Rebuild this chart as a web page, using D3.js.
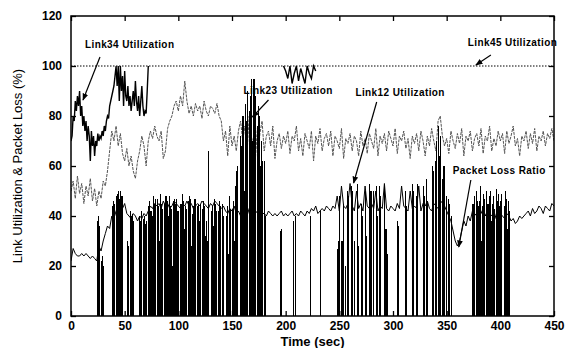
<!DOCTYPE html>
<html><head><meta charset="utf-8">
<script src="https://cdn.jsdelivr.net/npm/d3@7/dist/d3.min.js"></script>
<style>
html,body{margin:0;padding:0;background:#fff;}
svg{display:block;font-family:"Liberation Sans",Arial,sans-serif;}
</style></head>
<body>
<svg id="chart" width="567" height="348"></svg>
<script>
// ---------------- DATA ----------------
const xTicks = [0,50,100,150,200,250,300,350,400,450];
const yTicks = [0,20,40,60,80,100,120];

// Packet loss ratio, 1-second samples, t = 0..450
const packetLoss = [
 0,0,0,0,0,0,0,0,0,0,
 0,0,0,0,0,0,0,0,0,0,
 0,0,0,0,38,40,36,0,22,24,
 20,0,0,0,0,0,0,0,44,46,
 45,0,48,49,50,47,50,48,0,0,
 0,0,30,28,0,42,40,41,38,0,
 0,0,0,40,38,42,0,39,40,37,
 38,0,44,46,42,40,48,45,47,0,
 47,44,30,49,45,43,0,45,48,46,
 40,48,44,43,20,46,47,45,47,42,
 42,0,45,49,46,35,44,43,0,46,
 48,47,28,41,44,47,0,44,45,38,
 45,0,43,46,44,32,38,30,66,0,
 42,44,36,47,45,42,0,42,46,44,
 0,45,40,0,40,44,25,48,43,0,
 43,46,30,52,58,60,0,72,68,80,
 80,50,85,78,90,0,82,88,95,70,
 95,88,0,76,84,80,60,70,62,0,
 62,40,0,0,0,0,0,0,0,0,
 0,0,0,0,0,34,35,0,0,0,
 0,0,0,0,0,0,0,38,0,40,
 0,0,0,0,0,0,0,0,0,0,
 0,0,0,40,0,0,0,0,0,0,
 0,0,42,0,0,0,0,0,0,0,
 0,0,0,0,0,0,0,0,27,30,
 48,0,30,45,0,20,0,50,48,0,
 0,52,50,0,30,0,53,28,0,0,
 45,40,0,0,50,32,0,0,53,50,
 0,50,0,0,52,40,0,52,48,0,
 0,0,53,35,25,0,0,0,0,0,
 0,0,0,0,38,36,0,0,0,0,
 0,50,44,0,0,0,0,0,53,50,
 0,48,53,0,0,0,0,0,52,48,
 0,55,46,0,0,0,60,58,0,62,
 70,0,76,64,72,0,55,60,0,48,
 0,47,45,0,40,0,0,0,0,0,
 0,0,0,0,0,0,0,0,0,0,
 0,0,0,0,45,48,0,50,46,44,
 46,52,30,44,49,47,0,50,45,48,
 50,38,45,48,43,0,51,46,49,44,
 46,49,0,44,50,47,35,46,42,0,
 0,0,0,0,0,0,0,0,0,0,
 0,0,0,0,0,0,0,0,0,0,
 0,0,0,0,0,0,0,0,0,0,
 0,0,0,0,0,0,0,0,0,0,
 0
];

// Link12 utilization, 2-second samples, t = 0..450
const link12 = [
 22,27,25,24,24,25,24,25,24,23,
 24,23,22,28,26,30,33,36,35,40,
 39,42,44,40,43,45,41,40,39,41,
 40,38,40,39,41,40,42,44,43,45,
 44,45,43,46,44,45,43,44,46,45,
 44,43,45,44,46,44,45,43,44,45,
 44,46,45,44,43,45,44,46,45,44,
 43,44,42,41,43,42,44,41,42,40,
 41,42,40,43,41,40,42,41,40,41,
 41,40,42,41,40,41,40,41,42,40,
 41,40,41,42,40,41,40,42,41,40,
 42,41,43,42,44,41,42,43,42,44,
 43,42,44,43,48,42,52,44,43,45,
 53,44,42,50,43,45,42,52,44,43,
 45,43,50,42,44,43,53,43,42,44,
 43,42,45,43,52,44,43,42,50,43,
 44,43,52,42,45,44,46,43,42,45,
 44,43,45,46,44,42,40,38,34,30,
 28,30,34,38,36,40,38,42,41,40,
 42,41,43,40,42,41,40,42,39,40,
 41,40,39,41,40,38,39,37,38,40,
 39,40,41,42,40,43,41,42,44,43,
 41,44,43,42,45,44
];

// Link23 utilization, 2-second samples, t = 0..450
const link23 = [
 50,54,47,56,49,53,45,52,48,55,
 46,51,44,50,47,54,52,58,66,74,
 70,76,68,73,65,62,67,60,64,58,
 55,62,66,72,68,60,70,74,71,76,
 72,70,74,63,66,75,78,80,84,86,
 82,88,84,94,86,81,84,80,85,82,
 84,79,86,82,80,84,83,81,85,80,
 78,70,74,64,76,68,72,66,74,78,
 70,76,65,80,72,68,75,62,73,78,
 66,72,74,68,76,63,70,73,67,72,
 69,74,65,72,70,76,66,71,64,73,
 70,67,74,62,72,69,75,66,71,73,
 68,74,64,72,70,67,75,63,71,69,
 73,66,72,70,64,74,68,71,65,73,
 70,67,75,64,72,69,73,66,74,71,
 68,75,65,72,70,74,67,71,63,72,
 69,73,66,74,70,64,72,68,75,70,
 66,78,80,72,68,71,65,74,70,67,
 73,69,75,64,72,70,74,66,71,73,
 68,75,65,72,70,76,66,71,68,74,
 70,73,65,74,69,72,76,68,71,64,
 72,70,74,67,73,69,75,66,72,70,
 74,68,73,71,75,70
];

// Link34 utilization: 1-second samples t = 0..72, then a dip segment t = 198..228 (2 s)
const link34Early = [
 70,72,80,78,86,82,88,84,90,80,
 84,76,80,74,78,70,76,72,62,74,
 68,72,64,70,68,73,70,72,71,74,
 72,76,74,78,80,79,84,86,88,90,
 92,96,100,92,100,86,100,90,96,84,
 98,88,86,92,84,88,82,86,90,84,
 94,86,82,88,80,86,92,84,80,82,
 81,90,100
];
const link34LateStart = 198;
const link34Late = [100,98,95,100,93,97,100,94,99,96,93,100,97,95,100,98];

// Link45 utilization (flat at 100)
const link45Times = [0, 450];
const link45 = [100, 100];

const annotations = [
  {text:"Link34 Utilization", tx:13, ty:107.2, from:[27,103.6], to:[11.2,86.4]},
  {text:"Link23 Utilization", tx:160.6, ty:88.8, from:[184,86.4], to:[169,79.6]},
  {text:"Link12 Utilization", tx:265, ty:88, from:[284.8,85.6], to:[263.3,53.2]},
  {text:"Link45 Utilization", tx:369.7, ty:108, from:[391.2,104.4], to:[377.2,100.4]},
  {text:"Packet Loss Ratio", tx:355.7, ty:56.8, from:[372.5,54.4], to:[361.3,27.6]}
];

// ---------------- CHART ----------------
const svg = d3.select("#chart");
const L = 71, R = 554, T = 16, B = 316;
const x = d3.scaleLinear().domain([0,450]).range([L,R]);
const y = d3.scaleLinear().domain([0,120]).range([B,T]);

svg.append("clipPath").attr("id","clip").append("rect")
  .attr("x",L).attr("y",T).attr("width",R-L).attr("height",B-T);
const g = svg.append("g").attr("clip-path","url(#clip)");

const lineGen = (times) => d3.line()
  .x((d,i)=>x(times[i])).y(d=>y(d));

const plTimes = packetLoss.map((d,i)=>i);
const twoSec = link12.map((d,i)=>i*2);
const l23Times = link23.map((d,i)=>i*2);
const l34eTimes = link34Early.map((d,i)=>i);
const l34lTimes = link34Late.map((d,i)=>link34LateStart+i*2);

// Link23 (grey, broken)
g.append("path").datum(link23)
  .attr("d", lineGen(l23Times))
  .attr("fill","none").attr("stroke","#555").attr("stroke-width",1)
  .attr("stroke-dasharray","3,1");

// Packet loss (dense black bars)
g.append("path").datum(packetLoss)
  .attr("d", d3.area().curve(d3.curveStepAfter)
    .x((d,i)=>x(plTimes[i])).y0(y(0)).y1(d=>y(d)))
  .attr("fill","#000").attr("stroke","none").attr("shape-rendering","crispEdges");

// Link12
g.append("path").datum(link12)
  .attr("d", lineGen(twoSec))
  .attr("fill","none").attr("stroke","#000").attr("stroke-width",1);

// Link45 dotted
g.append("path").datum(link45)
  .attr("d", lineGen(link45Times))
  .attr("fill","none").attr("stroke","#000").attr("stroke-width",1)
  .attr("stroke-dasharray","1.5,1.5");

// Link34
g.append("path").datum(link34Early)
  .attr("d", lineGen(l34eTimes))
  .attr("fill","none").attr("stroke","#000").attr("stroke-width",1.4);
g.append("path").datum(link34Late)
  .attr("d", lineGen(l34lTimes))
  .attr("fill","none").attr("stroke","#000").attr("stroke-width",1.4);

// Frame
svg.append("rect").attr("x",L).attr("y",T).attr("width",R-L).attr("height",B-T)
  .attr("fill","none").attr("stroke","#000").attr("stroke-width",1.5);

// Axes (inward ticks)
const axB = svg.append("g").attr("transform",`translate(0,${B})`)
  .call(d3.axisBottom(x).tickValues(xTicks).tickSize(-5).tickPadding(5));
const axT = svg.append("g").attr("transform",`translate(0,${T})`)
  .call(d3.axisTop(x).tickValues(xTicks).tickSize(-5).tickFormat(""));
const axL = svg.append("g").attr("transform",`translate(${L},0)`)
  .call(d3.axisLeft(y).tickValues(yTicks).tickSize(-5).tickPadding(9));
const axR = svg.append("g").attr("transform",`translate(${R},0)`)
  .call(d3.axisRight(y).tickValues(yTicks).tickSize(-5).tickFormat(""));
[axB,axT,axL,axR].forEach(a=>{
  a.select(".domain").remove();
  a.selectAll("line").attr("stroke","#000").attr("stroke-width",1.3);
  a.selectAll("text").attr("font-size",12).attr("font-weight","bold")
   .attr("fill","#000").attr("font-family","'Liberation Sans',Arial,sans-serif");
});

// Axis titles
svg.append("text").attr("x",(L+R)/2).attr("y",346).attr("text-anchor","middle")
  .attr("font-size",13).attr("font-weight","bold").text("Time (sec)");
svg.append("text").attr("transform",`translate(22,${(T+B)/2}) rotate(-90)`)
  .attr("text-anchor","middle").attr("font-size",13)
  .text("Link Utilization & Packet Loss (%)");

// Annotations
svg.append("defs").append("marker").attr("id","ah").attr("viewBox","0 0 10 10")
  .attr("refX",9).attr("refY",5).attr("markerWidth",6).attr("markerHeight",6)
  .attr("orient","auto").append("path").attr("d","M0,1 L10,5 L0,9 Z").attr("fill","#000");
annotations.forEach(a=>{
  svg.append("text").attr("x",x(a.tx)).attr("y",y(a.ty))
    .attr("font-size",10).attr("font-weight","bold").attr("letter-spacing",0.4)
    .text(a.text);
  svg.append("line").attr("x1",x(a.from[0])).attr("y1",y(a.from[1]))
    .attr("x2",x(a.to[0])).attr("y2",y(a.to[1]))
    .attr("stroke","#000").attr("stroke-width",1.2).attr("marker-end","url(#ah)");
});
</script>
</body></html>
